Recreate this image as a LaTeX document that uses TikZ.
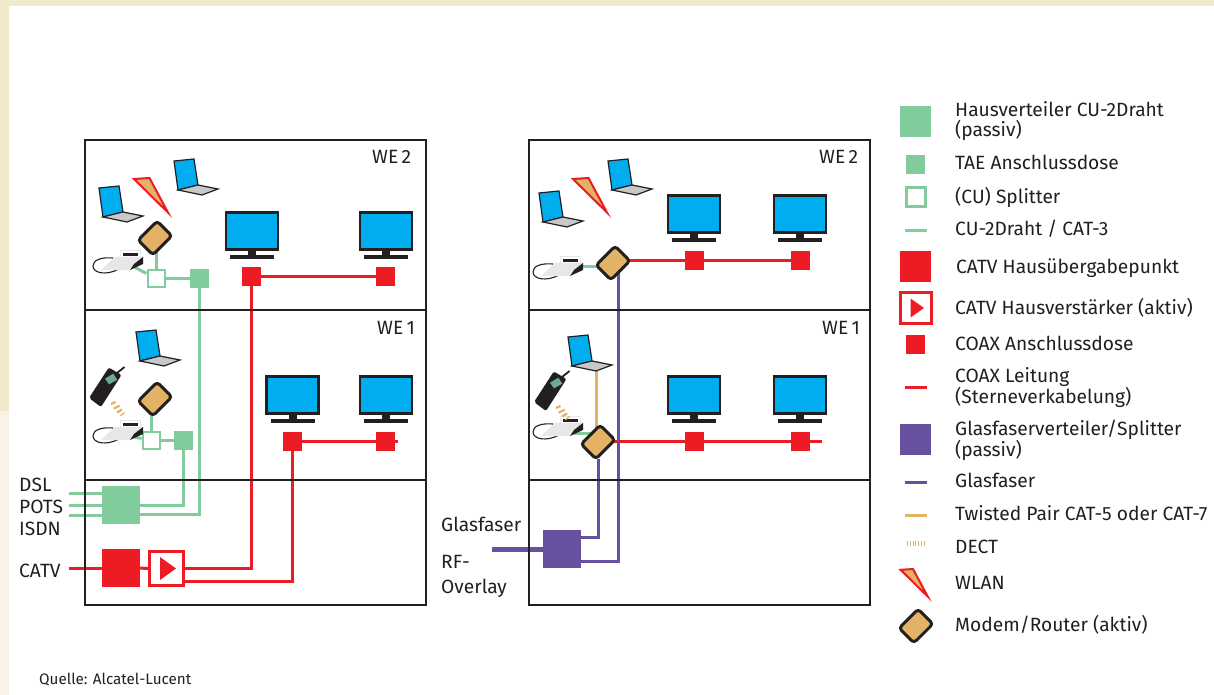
\documentclass[tikz,border=0pt]{standalone}
\usepackage{fontspec}
\setmainfont{Fira Sans}
\usetikzlibrary{backgrounds}
\definecolor{cgreen}{HTML}{82CB9D}
\definecolor{cred}{HTML}{ED1C24}
\definecolor{cpurple}{HTML}{66509F}
\definecolor{ctan}{HTML}{E3B264}
\definecolor{cblue}{HTML}{00AEEF}
\definecolor{cdark}{HTML}{231F20}
\definecolor{cgrey}{HTML}{C7C8CA}
\definecolor{clight}{HTML}{E6E7E8}
\definecolor{cteal}{HTML}{6FA8A0}
\definecolor{cband}{HTML}{F0E9CB}
\definecolor{cbandb}{HTML}{F7F3E5}
\pgfdeclarelayer{wires}
\pgfsetlayers{background,wires,main}
\tikzset{
  x=1pt,y=-1pt,
  house/.style={draw=cdark,line width=2.6pt,minimum width=341pt,minimum height=465pt,inner sep=0pt},
  divider/.style={draw=cdark,line width=2.6pt},
  hvbox/.style={fill=cgreen,minimum size=38pt,inner sep=0pt},
  taebox/.style={fill=cgreen,minimum size=19pt,inner sep=0pt},
  splitbox/.style={draw=cgreen,fill=white,line width=2.8pt,minimum size=17pt,inner sep=0pt},
  hubox/.style={fill=cred,minimum size=38pt,inner sep=0pt},
  ampbox/.style={draw=cred,fill=white,line width=2.8pt,minimum size=34pt,inner sep=0pt},
  coaxbox/.style={fill=cred,minimum size=19pt,inner sep=0pt},
  fibbox/.style={fill=cpurple,minimum size=38pt,inner sep=0pt},
  modem/.style={draw=cdark,fill=ctan,line width=3pt,rounded corners=3.5pt,minimum width=27pt,minimum height=21pt,inner sep=0pt,rotate=45},
  gwire/.style={draw=cgreen,line width=3pt},
  rwire/.style={draw=cred,line width=3pt},
  pwire/.style={draw=cpurple,line width=3pt},
  twire/.style={draw=ctan,line width=3pt},
  txt/.style={anchor=base west,inner sep=0pt,text=cdark,font=\fontsize{19.2}{20.5}\selectfont,align=left},
  laptop/.pic={
    \draw[fill=cblue,draw=cdark,line width=1.2pt] (0,0) -- (-4,-29) -- (16,-31) -- (20,-5) -- cycle;
    \draw[fill=cgrey,draw=cdark,line width=1.2pt] (0,0) -- (20,-5) -- (40,-1) -- (24,5) -- cycle;
    \coordinate (-kb) at (24,4);
  },
  monitor/.pic={
    \fill[cdark] (-4,-9) rectangle (4,-3);
    \fill[cdark] (-22,-4) rectangle (22,0);
    \node[name=-scr,draw=cdark,fill=cblue,line width=2.6pt,minimum width=52pt,minimum height=36.5pt,inner sep=0pt] at (0,-28) {};
  },
  wlan/.pic={
    \draw[fill=ctan,draw=cred,line width=2pt,line join=miter] (2,1) -- (17.5,0) -- (36,34.5) -- cycle;
  },
  homephone/.pic={
    \draw[cdark,line width=1.1pt] (-30,1) .. controls (-42,0) and (-50,3) .. (-50,9) .. controls (-50,16) and (-37,19) .. (-24,12);
    \fill[white,draw=clight,line width=.3pt] (-23,-7) rectangle (-3,1);
    \fill[clight] (-42,13) -- (-28,0) -- (0,-.5) -- (0,6) -- (-13,13) -- cycle;
    \fill[cdark] (-20,-4.5) rectangle (-5,-1.5);
    \fill[cdark] (0,0) -- (0,7) -- (-13,13) -- (-9,7) -- cycle;
    \coordinate (-out) at (-9,10);
    \coordinate (-r) at (0,3);
  },
  cellphone/.pic={
    \fill[cdark,rounded corners=2pt] (-16,11) -- (3.8,-19.5) -- (16.5,-12) -- (-4,20) -- cycle;
    \draw[cdark,line width=1.8pt] (12,-14) -- (19.5,-20);
    \fill[cteal] (0,-8.3) -- (8.3,-13.3) -- (12.3,-7.3) -- (4,-2.7) -- cycle;
    \draw[ctan,line width=2.2pt] (6,17) -- (10.5,15) (8.6,21.7) -- (14.6,18.7) (12,25.5) -- (17,22.5);
    \draw[ctan,line width=1.3pt] (15.5,28.8) -- (19.5,25.5);
  },
}
\begin{document}
\begin{tikzpicture}
\useasboundingbox (0,0) rectangle (1214,695);
\begin{pgfonlayer}{background}
  \fill[white] (0,0) rectangle (1214,695);
  \fill[cband] (0,0) rectangle (1214,6);
  \fill[cband] (0,0) rectangle (9,411);
  \fill[cbandb] (0,411) rectangle (9,695);
\end{pgfonlayer}

% houses
\node[house] (hl) at (255.5,372.5) {};
\node[house] (hr) at (699.5,372.5) {};
\coordinate (hl2) at (85,310); \coordinate (hl1) at (85,480);
\coordinate (hr2) at (529,310); \coordinate (hr1) at (529,480);
\draw[divider] (hl2) -- (hl2 -| hl.east);
\draw[divider] (hl1) -- (hl1 -| hl.east);
\draw[divider] (hr2) -- (hr2 -| hr.east);
\draw[divider] (hr1) -- (hr1 -| hr.east);

% left diagram boxes
\node[hvbox] (hv) at (121,505) {};
\node[hubox] (hu) at (121,568) {};
\node[ampbox] (amp) at (166.5,568.5) {};
\fill[cred] (160,557) -- (176,568.5) -- (160,580) -- cycle;
\node[taebox] (tae2) at (199.5,278.5) {};
\node[splitbox] (sp2) at (156.5,278.5) {};
\node[taebox] (tae1) at (183.5,440.5) {};
\node[splitbox] (sp1) at (151.5,440.5) {};
\node[coaxbox] (la) at (251.5,276.5) {};
\node[coaxbox] (lb) at (385.5,276.5) {};
\node[coaxbox] (lc) at (292.5,441) {};
\node[coaxbox] (ld) at (385.5,441) {};
\node[modem] (ml2) at (155,238) {};
\node[modem] (ml1) at (155,399) {};
\pic (pl2) at (143,257) {homephone};
\pic (pl1) at (143,427) {homephone};
\pic (cl) at (105,387) {cellphone};
\pic (ll1) at (103,217) {laptop};
\pic (ll2) at (178,190) {laptop};
\pic (ll3) at (140,361) {laptop};
\pic (wl) at (132,178) {wlan};
\pic (ma) at (252,259) {monitor};
\pic (mb) at (386,259) {monitor};
\pic (mc) at (292.5,423) {monitor};
\pic (md) at (386,423) {monitor};

% right diagram boxes
\node[fibbox] (gf) at (562,549) {};
\node[modem] (mr2) at (613,263) {};
\node[modem] (mr1) at (598,442) {};
\node[coaxbox] (ra) at (694.5,260.5) {};
\node[coaxbox] (rb) at (800.5,260.5) {};
\node[coaxbox] (rc) at (694.5,441) {};
\node[coaxbox] (rd) at (800.5,441) {};
\pic (pr2) at (583,263) {homephone};
\pic (pr1) at (583,423) {homephone};
\pic (cr) at (550,391) {cellphone};
\pic (lr1) at (543,222) {laptop};
\pic (lr2) at (612,190) {laptop};
\pic (lr3) at (572,366) {laptop};
\pic (wr) at (571,178) {wlan};
\pic (me) at (694,242) {monitor};
\pic (mf) at (800,242) {monitor};
\pic (mg) at (694,423) {monitor};
\pic (mh) at (800,423) {monitor};

% free wire ends
\coordinate (idsl) at (69,493);
\coordinate (ipots) at (69,505);
\coordinate (iisdn) at (69,515);
\coordinate (icatv) at (69,568.5);
\coordinate (endl) at (398,441);
\coordinate (endr) at (822,441);
\coordinate (igf) at (492,549);

\begin{pgfonlayer}{wires}
  % green
  \draw[gwire] (idsl) -- (idsl -| hv.west);
  \draw[gwire] (ipots) -- (ipots -| hv.west);
  \draw[gwire] (iisdn) -- (iisdn -| hv.west);
  \draw[gwire] (hv.east) -| (tae1.south);
  \draw[gwire] ([yshift=-9.5pt]hv.east) -| (tae2.south);
  \draw[gwire] (tae2) -- (sp2);
  \draw[gwire] (tae1) -- (sp1);
  \draw[gwire] (pl2-out) -- (sp2);
  \draw[gwire] (pl1-out) -- (sp1);
  \draw[gwire] (sp2 |- ml2) -- (sp2);
  \draw[gwire] (sp1 |- ml1) -- (sp1);
  \draw[gwire] (pr2-r) -- (pr2-r -| mr2);
  \draw[gwire] (pr1-out) -- (pr1-out -| mr1);
  % red
  \draw[rwire] (icatv) -- (icatv -| hu.west);
  \draw[rwire] (hu) -- (amp);
  \draw[rwire] (amp.east) -| (la.south);
  \draw[rwire] ([yshift=-13pt]amp.east) -| (lc.south);
  \draw[rwire] (la) -- (lb);
  \draw[rwire] (lc) -- (ld);
  \draw[rwire] (ld) -- (endl);
  \draw[rwire] (mr2 |- ra) -- (ra);
  \draw[rwire] (ra) -- (rb);
  \draw[rwire] (mr1 |- rc) -- (rc);
  \draw[rwire] (rc) -- (rd);
  \draw[rwire] (rd) -- (endr);
  % purple
  \draw[draw=cpurple,line width=5pt] (igf) -- (gf);
  \draw[pwire] ([yshift=12pt]gf.east) -| (mr1);
  \draw[pwire] ([yshift=-12pt]gf.east) -| ([xshift=5pt]mr2.center);
  % twisted pair
  \draw[twire] (lr3-kb) -- (lr3-kb |- mr1);
\end{pgfonlayer}

% left labels
\node[txt] (tdsl) at (19,491) {DSL};
\node[txt] (tpots) at (19,513) {POTS};
\node[txt] (tisdn) at (19,535) {ISDN};
\node[txt] (tcatv) at (19,577) {CATV};
\node[txt] (tglas) at (441,531) {Glasfaser};
\node[txt] (trf) at (441,568) {RF-};
\node[txt] (trg) at (441,593) {Overlay};
\node[txt] (twl2) at (372,164) {WE\,2};
\node[txt] (twl1) at (377,334) {WE\,1};
\node[txt] (twr2) at (819,164) {WE\,2};
\node[txt] (twr1) at (822,334) {WE\,1};
\node[anchor=base west,inner sep=0pt,text=cdark,font=\fontsize{15.2}{17}\selectfont] (tq) at (39,684) {Quelle: Alcatel-Lucent};

% legend
\node[hvbox,minimum size=31pt] (k1) at (915.5,121.5) {};
\node[taebox] (k2) at (915.5,164.5) {};
\node[splitbox,minimum size=19pt] (k3) at (916,197) {};
\coordinate (k4a) at (905,230); \coordinate (k4b) at (927,230);
\draw[gwire] (k4a) -- (k4b);
\node[hubox,minimum size=31pt] (k5) at (915.5,266.5) {};
\node[ampbox,minimum size=31pt] (k6) at (916,308) {};
\fill[cred] (910.5,298.5) -- (924,308) -- (910.5,317.5) -- cycle;
\node[coaxbox] (k7) at (915.5,344.5) {};
\coordinate (k8a) at (905,387); \coordinate (k8b) at (927,387);
\draw[rwire] (k8a) -- (k8b);
\node[fibbox,minimum size=31pt] (k9) at (915.5,439.5) {};
\coordinate (k10a) at (905,482); \coordinate (k10b) at (927,482);
\draw[pwire] (k10a) -- (k10b);
\coordinate (k11a) at (905,515); \coordinate (k11b) at (927,515);
\draw[twire] (k11a) -- (k11b);
\coordinate (k12a) at (907,543); \coordinate (k12b) at (924,543);
\draw[ctan,line width=5pt,dash pattern=on .8pt off 2pt] (k12a) -- (k12b);
\pic[scale=.8] (k13) at (899,569) {wlan};
\node[modem] (k14) at (916,626) {};

\node[txt] (l1) at (955,137) {Hausverteiler CU-2Draht\\(passiv)};
\node[txt] (l2) at (955,169) {TAE Anschlussdose};
\node[txt] (l3) at (955,203) {(CU) Splitter};
\node[txt] (l4) at (955,235) {CU-2Draht / CAT-3};
\node[txt] (l5) at (956,273) {CATV Hausübergabepunkt};
\node[txt] (l6) at (955,314) {CATV Hausverstärker (aktiv)};
\node[txt] (l7) at (955,350) {COAX Anschlussdose};
\node[txt] (l8) at (955,403) {COAX Leitung\\(Sterneverkabelung)};
\node[txt] (l9) at (955,456) {Glasfaserverteiler/Splitter\\(passiv)};
\node[txt] (l10) at (955,487) {Glasfaser};
\node[txt] (l11) at (955,520) {Twisted Pair CAT-5 oder CAT-7};
\node[txt] (l12) at (955,553) {DECT};
\node[txt] (l13) at (955,589) {WLAN};
\node[txt] (l14) at (955,631) {Modem/Router (aktiv)};
\end{tikzpicture}
\end{document}
